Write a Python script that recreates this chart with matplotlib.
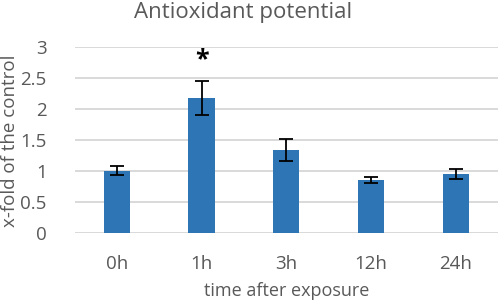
import matplotlib.pyplot as plt

times = ["0h", "1h", "3h", "12h", "24h"]
fold = [1.00, 2.17, 1.33, 0.85, 0.94]
err = [0.08, 0.27, 0.18, 0.05, 0.08]
star_at = 1
star_y = 2.78

plt.rcParams["font.family"] = ["Open Sans", "DejaVu Sans"]
grey = "#595959"

fig = plt.figure(figsize=(4.98, 3.05), dpi=100)
ax = fig.add_axes([0.1496, 0.2377, 0.8504, 0.6098])

x = range(len(times))
ax.bar(x, fold, width=0.31, color="#2E75B6", zorder=2,
       yerr=err, capsize=5, error_kw=dict(ecolor="black", elinewidth=1.3, capthick=1.3))
ax.text(star_at, star_y, "*", ha="center", va="center", fontsize=18, fontweight="bold", color="black")

ax.set_xlim(-0.5, len(times) - 0.5)
ax.set_ylim(0, 3)
ax.set_yticks([0, 0.5, 1, 1.5, 2, 2.5, 3])
ax.set_yticklabels(["0", "0.5", "1", "1.5", "2", "2.5", "3"])
ax.set_xticks(list(x))
ax.set_xticklabels(times)
ax.grid(axis="y", color="#D9D9D9", linewidth=1.4, zorder=0)
for s in ax.spines.values():
    s.set_visible(False)
ax.tick_params(length=0, labelsize=13.5, colors=grey)
ax.tick_params(axis="y", pad=20)
ax.tick_params(axis="x", pad=16)

fig.text(0.575, 0.045, "time after exposure", ha="center", va="center",
         fontsize=13, color=grey)
fig.text(0.02, 0.538, "x-fold of the control", rotation=90, ha="center", va="center",
         fontsize=13.5, color=grey)
fig.text(0.488, 0.958, "Antioxidant potential", ha="center", va="center", fontsize=16, color=grey)

fig.savefig("out.png", dpi=100)
